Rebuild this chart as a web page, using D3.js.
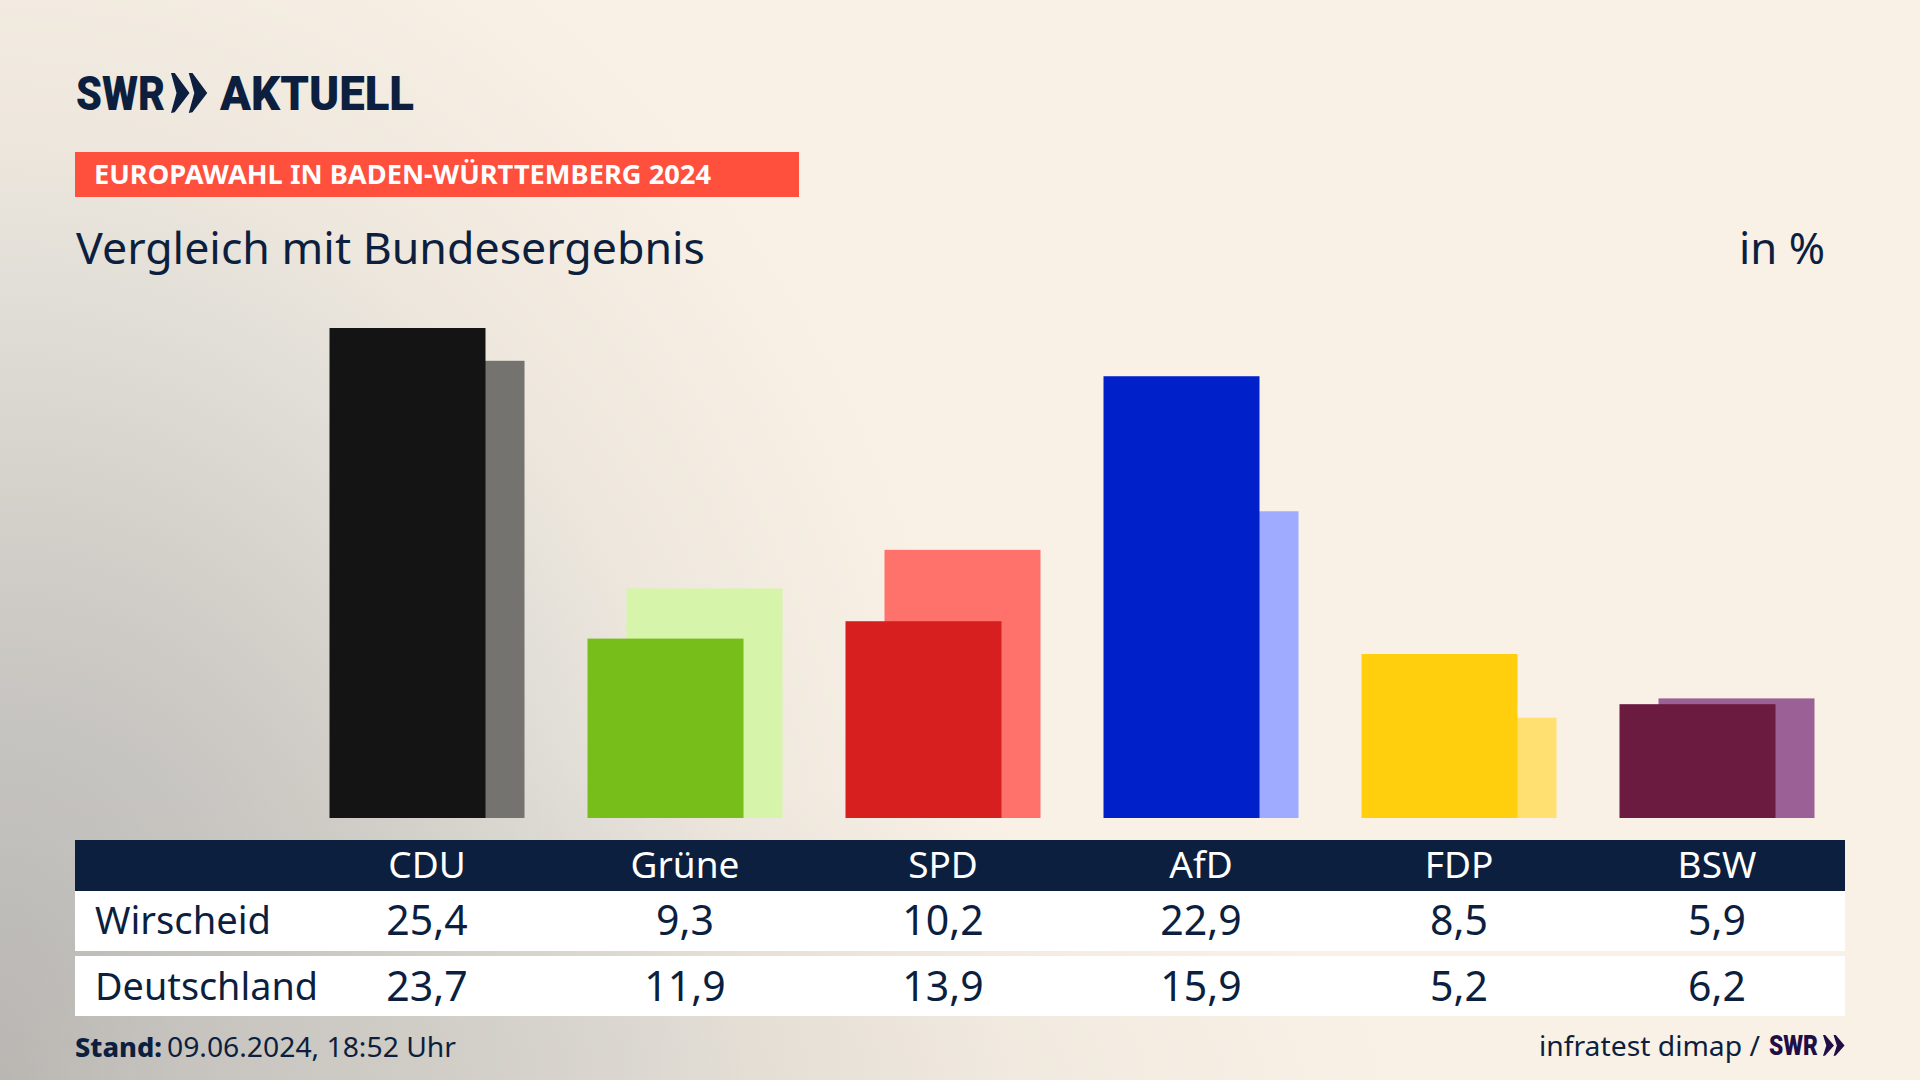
<!DOCTYPE html>
<html>
<head>
<meta charset="utf-8">
<script src="https://cdn.jsdelivr.net/npm/d3@7"></script>
<style>
  html, body { margin: 0; padding: 0; background: #f9f1e6; }
  svg { display: block; }
  text { font-family: "Noto Sans", sans-serif; fill: #0c1f3f; }
</style>
</head>
<body>
<svg id="chart" width="1920" height="1080"></svg>
<script>
const parties = ["CDU", "Grüne", "SPD", "AfD", "FDP", "BSW"];
const wirscheid = [25.4, 9.3, 10.2, 22.9, 8.5, 5.9];
const deutschland = [23.7, 11.9, 13.9, 15.9, 5.2, 6.2];
const frontColors = ["#141414", "#78be1a", "#d81f1f", "#0021c9", "#ffcf0d", "#6b1a40"];
const backColors = ["#75736f", "#d7f5aa", "#ff716b", "#9eabff", "#ffe070", "#9b6096"];

const navy = "#0c1f3f";
const svg = d3.select("#chart");

// background glow from the lower left corner, plus a flat one along the bottom
const defs = svg.append("defs");
const glow = defs.append("radialGradient")
  .attr("id", "glow")
  .attr("gradientUnits", "userSpaceOnUse")
  .attr("cx", 0).attr("cy", 0).attr("r", 1)
  .attr("gradientTransform", "translate(0,1080) scale(1100,1400)");
[[0, "#aaa9a7"], [0.17, "#bfbebb"], [0.345, "#cecbc6"], [0.571, "#e2dfd8"], [0.68, "#eee7dd"], [0.92, "#f9f1e6"]].forEach(s =>
  glow.append("stop").attr("offset", s[0]).attr("stop-color", s[1]));
const floor = defs.append("radialGradient")
  .attr("id", "floor")
  .attr("gradientUnits", "userSpaceOnUse")
  .attr("cx", 0).attr("cy", 0).attr("r", 1)
  .attr("gradientTransform", "translate(300,1080) scale(1100,330)");
floor.append("stop").attr("offset", 0).attr("stop-color", "#cfcac3").attr("stop-opacity", 0.55);
floor.append("stop").attr("offset", 1).attr("stop-color", "#cfcac3").attr("stop-opacity", 0);
svg.append("rect").attr("width", 1920).attr("height", 1080).attr("fill", "url(#glow)");
svg.append("rect").attr("width", 1920).attr("height", 1080).attr("fill", "url(#floor)");

const x = d3.scalePoint().domain(parties).range([427, 1717]);
const y = d3.scaleLinear().domain([0, 25.4]).range([818, 328]);
const barW = 156, offset = 39;

// pale national bars go behind the regional ones
svg.append("g").selectAll("rect").data(parties).join("rect")
  .attr("x", d => x(d) - barW / 2 + offset / 2)
  .attr("y", (d, i) => y(deutschland[i]))
  .attr("width", barW)
  .attr("height", (d, i) => y(0) - y(deutschland[i]))
  .attr("fill", (d, i) => backColors[i]);

svg.append("g").selectAll("rect").data(parties).join("rect")
  .attr("x", d => x(d) - barW / 2 - offset / 2)
  .attr("y", (d, i) => y(wirscheid[i]))
  .attr("width", barW)
  .attr("height", (d, i) => y(0) - y(wirscheid[i]))
  .attr("fill", (d, i) => frontColors[i]);

function label(txt, px, py, size, width, opts) {
  opts = opts || {};
  const t = svg.append("text").attr("x", px).attr("y", py)
    .style("font-size", size + "px").text(txt);
  if (opts.weight) t.style("font-weight", opts.weight);
  if (opts.fill) t.style("fill", opts.fill);
  if (opts.family) t.style("font-family", opts.family);
  if (opts.anchor) t.attr("text-anchor", opts.anchor);
  if (width) t.attr("textLength", width).attr("lengthAdjust", "spacingAndGlyphs");
  return t;
}

function chevrons(px, py, h, w, fill) {
  // two arrows as in the SWR logo
  const g = svg.append("g").attr("fill", fill);
  const a = w * 0.5;
  [0, w * 0.48].forEach(dx => {
    const p = d3.path();
    p.moveTo(px + dx, py - h);
    p.lineTo(px + dx + a * 0.2, py - h);
    p.lineTo(px + dx + a, py - h / 2);
    p.lineTo(px + dx + a * 0.2, py - h * 0.02);
    p.lineTo(px + dx, py);
    p.lineTo(px + dx + a * 0.3, py - h / 2);
    p.closePath();
    g.append("path").attr("d", p.toString());
  });
}

// header
label("SWR", 76, 110, 49, 89, { weight: 900, family: "Roboto" });
chevrons(171, 113, 40, 37, navy);
label("AKTUELL", 220, 110, 49, 194, { weight: 900, family: "Roboto" });

svg.append("rect").attr("x", 75).attr("y", 152).attr("width", 724).attr("height", 45).attr("fill", "#ff4f3d");
label("EUROPAWAHL IN BADEN-WÜRTTEMBERG 2024", 94, 184, 27, 617, { weight: 700, fill: "#fff" });

label("Vergleich mit Bundesergebnis", 76, 264, 44, 629);
label("in %", 1739, 264, 44, 86);

// table
const rowLabels = ["Wirscheid", "Deutschland"];
const rowData = [wirscheid, deutschland];
const fmt = v => d3.format(".1f")(v).replace(".", ",");

svg.append("rect").attr("x", 75).attr("y", 840).attr("width", 1770).attr("height", 51).attr("fill", navy);
svg.selectAll("rect.row").data(rowLabels).join("rect").attr("class", "row")
  .attr("x", 75).attr("y", (d, i) => [891, 956][i]).attr("width", 1770).attr("height", 60).attr("fill", "#fff");

svg.append("g").selectAll("text").data(parties).join("text")
  .attr("x", d => x(d)).attr("y", 878).attr("text-anchor", "middle")
  .style("font-size", "37px").style("fill", "#fff").text(d => d);

rowLabels.forEach((r, ri) => {
  const by = [934, 1000][ri];
  label(r, 95, by, 38, [176, 223][ri]);
  svg.append("g").selectAll("text").data(rowData[ri]).join("text")
    .attr("x", (d, i) => x(parties[i])).attr("y", by + 1).attr("text-anchor", "middle")
    .style("font-size", "41px").text(fmt);
});

// footer
label("Stand:", 75, 1057, 27, 87, { weight: 800 });
label("09.06.2024, 18:52 Uhr", 167, 1057, 27, 289);
label("infratest dimap /", 1539, 1056, 28, 221);
label("SWR", 1769, 1055, 28, 49, { weight: 900, family: "Roboto", fill: "#1f0f46" });
chevrons(1823, 1056, 21, 22, "#1f0f46");
</script>
</body>
</html>
